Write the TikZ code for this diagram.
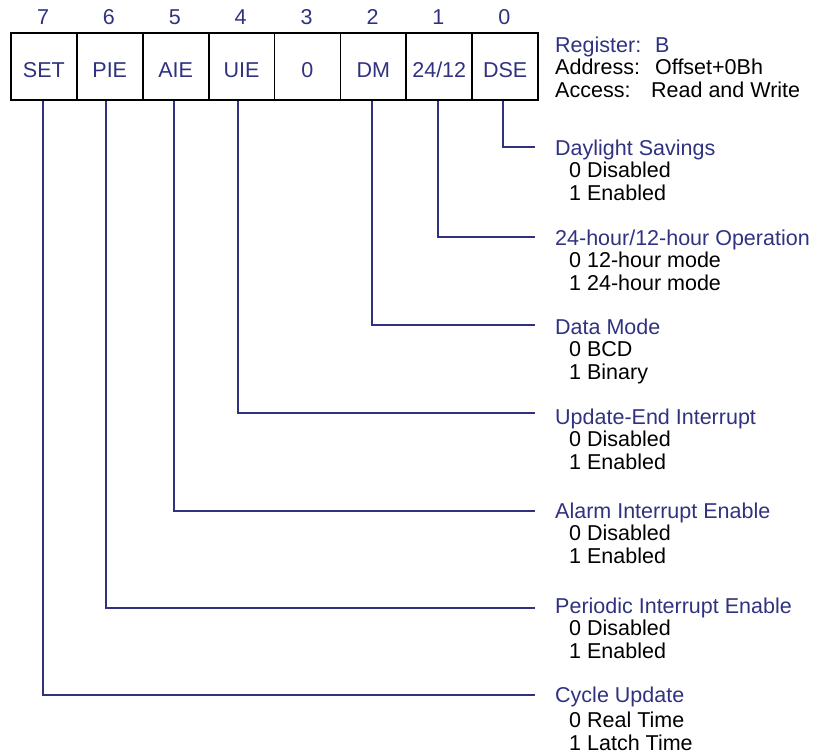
\documentclass[tikz,border=0pt]{standalone}
\usepackage{fontspec}
\setmainfont{Liberation Sans}
\definecolor{regblue}{RGB}{48,50,128}
\newcommand{\fieldtext}[3]{\begin{tabular}[t]{@{}l@{}}\textcolor{regblue}{#1}\\[#3]\hspace{14pt}#2\end{tabular}}
\begin{document}
\begin{tikzpicture}[x=1pt,y=-1pt,
    every node/.style={inner sep=0pt,font=\fontsize{21.5}{22.5}\selectfont},
    cell/.style={draw=black,line width=1.8pt,minimum width=65.9pt,minimum height=67pt,text=regblue,anchor=north west},
    bitnum/.style={text=regblue,anchor=base},
    field/.style={anchor=base west,align=left},
    wire/.style={draw=regblue,line width=2pt}]
  \useasboundingbox (0,0) rectangle (817,755);

  % register cells, bit 7 on the left
  \foreach \b/\t [count=\i from 0] in {7/SET,6/PIE,5/AIE,4/UIE,3/0,2/DM,1/24\slash 12,0/DSE}{
    \node[cell] (c\b) at (10+65.9*\i,32) {\raisebox{-11.5pt}[0pt][0pt]{\t}};
    \node[bitnum] (n\b) at (43+65.9*\i,24) {\b};
  }

  % register header
  \node[field] (hdr) at (555,52) {\begin{tabular}[t]{@{}l@{}}
      \textcolor{regblue}{\makebox[100pt][l]{Register:}B}\\
      \makebox[100pt][l]{Address:}Offset+0Bh\\
      \makebox[96pt][l]{Access:}Read and Write\end{tabular}};

  % field descriptions
  \node[field] (f0) at (555,155) {\fieldtext{Daylight Savings}{0 Disabled\\\hspace{14pt}1 Enabled}{0pt}};
  \node[field] (f1) at (555,245) {\fieldtext{24-hour/12-hour Operation}{0 12-hour mode\\\hspace{14pt}1 24-hour mode}{0pt}};
  \node[field] (f2) at (555,334) {\fieldtext{Data Mode}{0 BCD\\\hspace{14pt}1 Binary}{0pt}};
  \node[field] (f4) at (555,424) {\fieldtext{Update-End Interrupt}{0 Disabled\\\hspace{14pt}1 Enabled}{0pt}};
  \node[field] (f5) at (555,518) {\fieldtext{Alarm Interrupt Enable}{0 Disabled\\\hspace{14pt}1 Enabled}{0pt}};
  \node[field] (f6) at (555,613) {\fieldtext{Periodic Interrupt Enable}{0 Disabled\\\hspace{14pt}1 Enabled}{0pt}};
  \node[field] (f7) at (555,702) {\fieldtext{Cycle Update}{0 Real Time\\\hspace{14pt}1 Latch Time}{3pt}};

  % leader ends, just left of each description
  \coordinate (e0) at (535,147);
  \coordinate (e1) at (535,237);
  \coordinate (e2) at (535,325);
  \coordinate (e4) at (535,413);
  \coordinate (e5) at (535,511);
  \coordinate (e6) at (535,608);
  \coordinate (e7) at (535,695);

  % leaders from each bit down and across
  \draw[wire] ([xshift=-2pt]c0.south) |- (e0);
  \draw[wire] ([xshift=-1pt]c1.south) |- (e1);
  \draw[wire] ([xshift=-1.5pt]c2.south) |- (e2);
  \draw[wire] ([xshift=-3.5pt]c4.south) |- (e4);
  \draw[wire] ([xshift=-2pt]c5.south) |- (e5);
  \draw[wire] ([xshift=-3.5pt]c6.south) |- (e6);
  \draw[wire] ([xshift=-1pt]c7.south) |- (e7);
\end{tikzpicture}
\end{document}
